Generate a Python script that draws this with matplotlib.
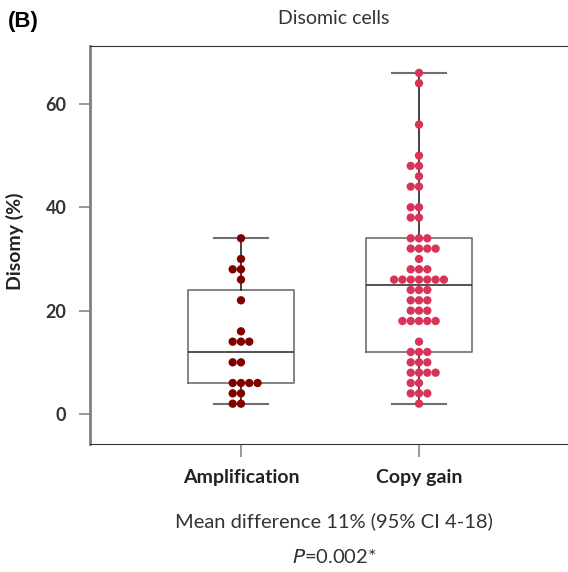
import numpy as np
import matplotlib
matplotlib.use("Agg")
import matplotlib.pyplot as plt

categories = ["Amplification", "Copy gain"]
amplification = [34, 30, 28, 28, 26, 22, 16, 14, 14, 14, 10, 10,
                 6, 6, 6, 6, 4, 4, 2, 2]
copy_gain = [66, 64, 56, 50, 48, 48, 46, 44, 44, 40, 40, 38, 38,
             34, 34, 34, 32, 32, 32, 32, 30, 28, 28, 28,
             26, 26, 26, 26, 26, 26, 26, 24, 24, 24, 22, 22, 22,
             20, 20, 20, 18, 18, 18, 18, 18, 14, 12, 12, 12,
             10, 10, 10, 8, 8, 8, 8, 6, 6, 4, 4, 4, 2]
# box statistics
box_q1 = [6, 12]
box_med = [12, 25]
box_q3 = [24, 34]
box_lo = [2, 2]
box_hi = [34, 66]
colors = ["#800000", "#D7345A"]
yticks = [0, 20, 40, 60]

LAT = "Lato"
fig = plt.figure(figsize=(5.68, 5.72), dpi=100)
ax = fig.add_axes([90/568, 128/572, 488/568, 398/572])

stats = []
for i in range(2):
    stats.append(dict(q1=box_q1[i], med=box_med[i], q3=box_q3[i],
                      whislo=box_lo[i], whishi=box_hi[i], fliers=[]))
ax.bxp(stats, positions=[0, 1], widths=0.6, capwidths=0.3, showfliers=False,
       boxprops=dict(color="#707070", linewidth=1.2),
       medianprops=dict(color="#333333", linewidth=1.2),
       whiskerprops=dict(color="#222222", linewidth=1.2),
       capprops=dict(color="#707070", linewidth=1.5), zorder=1)

def swarm_offsets(vals, step):
    vals = np.asarray(vals)
    offs = np.zeros(len(vals))
    order = [0, -1, 1, 2, -2, 3, -3, 4, -4]
    for v in np.unique(vals):
        idx = np.where(vals == v)[0]
        for k, j in enumerate(idx):
            offs[j] = order[k] * step
    return offs

step = 0.0466
for i, vals in enumerate([amplification, copy_gain]):
    offs = swarm_offsets(vals, step)
    ax.scatter(i + offs, vals, s=36, color=colors[i], edgecolors="none", zorder=3)

ax.set_xlim(-0.848, 1.893)
ax.set_ylim(-5.8, 71.2)
ax.set_yticks(yticks)
ax.set_yticklabels([str(t) for t in yticks], fontfamily=LAT, fontweight="bold",
                   fontsize=13, color="#333333")
ax.set_xticks([0, 1])
ax.set_xticklabels(categories, fontfamily=LAT, fontweight="bold", fontsize=14,
                   color="#222222")
ax.tick_params(axis="y", length=8, width=1.2, color="#888888", pad=9)
ax.tick_params(axis="x", length=9, width=1.2, color="#888888", pad=9)
ax.spines["right"].set_visible(False)
ax.spines["left"].set_color("#808080")
ax.spines["left"].set_linewidth(2)
ax.spines["top"].set_color("#333333")
ax.spines["bottom"].set_color("#333333")
ax.set_ylabel("Disomy (%)", fontfamily=LAT, fontweight="bold", fontsize=14,
              color="#222222")
ax.yaxis.set_label_coords(-0.135, 0.51)

fig.text(0.014, 0.963, "(B)", fontfamily="Liberation Sans", fontweight="bold",
         fontsize=16, va="center", ha="left")
fig.text(334/568, 1 - 19/572, "Disomic cells", fontfamily=LAT, fontsize=14,
         ha="center", va="center", color="#333333")
fig.text(334/568, 1 - 521/572, "Mean difference 11% (95% CI 4-18)", fontfamily=LAT,
         fontsize=14.5, ha="center", va="center", color="#333333")
fig.text(334/568, 1 - 557/572, r"$\mathit{P}$=0.002*", fontfamily=LAT,
         fontsize=14.5, ha="center", va="center", color="#333333")

fig.savefig("out.png", dpi=100)
